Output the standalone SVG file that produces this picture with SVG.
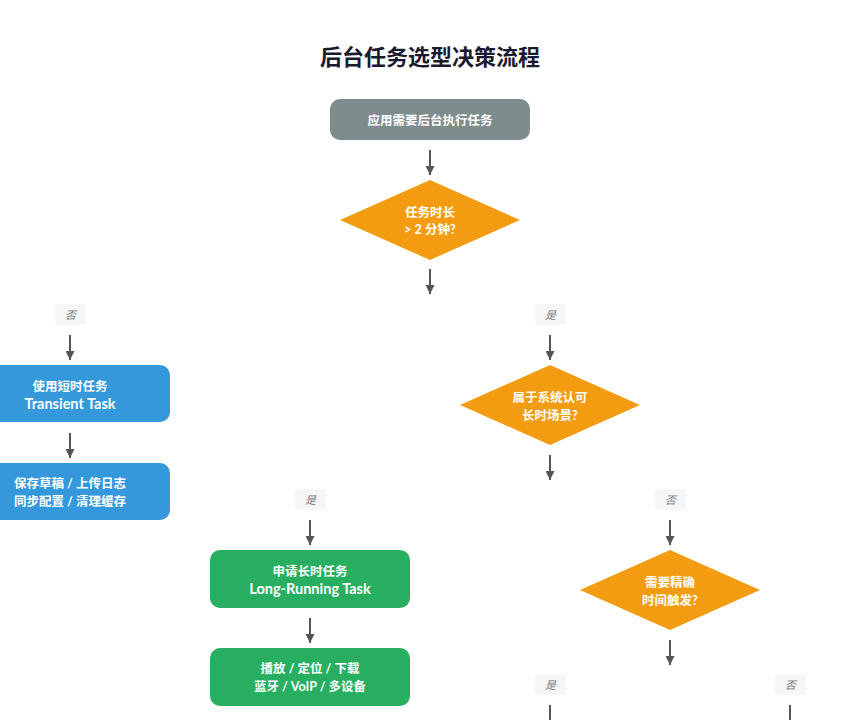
<svg xmlns="http://www.w3.org/2000/svg" width="860" height="720" viewBox="0 0 860 720">
<style>
.t{font-family:Lato,"Noto Sans CJK SC",sans-serif;font-weight:bold;fill:#fff;font-size:12.5px;text-anchor:middle;dominant-baseline:central}
.en{font-size:14.5px}
.title{font-family:Lato,"Noto Sans CJK SC",sans-serif;font-weight:bold;fill:#1a1a2e;font-size:22px;text-anchor:middle;dominant-baseline:central}
.lbg{fill:#f5f6f8}
.lt{font-family:Lato,"Noto Sans CJK SC",sans-serif;font-style:italic;fill:#777;font-size:11px;text-anchor:middle;dominant-baseline:central}
.e{stroke:#555;stroke-width:2;fill:none}
.blue{fill:#3498db}.green{fill:#27ae60}.dia{fill:#f39c12}.gray{fill:#7f8c8d}
</style>
<defs>
<marker id="ah" viewBox="0 0 10 10" refX="10" refY="5" markerWidth="4.5" markerHeight="4.5" orient="auto" markerUnits="strokeWidth">
<path d="M0,0 L10,5 L0,10 z" fill="#555"/>
</marker>
</defs>
<rect width="860" height="720" fill="#fff"/>
<text class="title" x="430" y="56">后台任务选型决策流程</text>

<g id="start"><rect class="gray" x="330" y="99" width="200" height="41" rx="10"/><text class="t" x="430" y="120">应用需要后台执行任务</text></g>
<g id="d1"><polygon class="dia" points="430,180 520,220 430,260 340,220"/><text class="t" x="430" y="212">任务时长</text><text class="t" x="430" y="229">&gt; 2 分钟?</text></g>
<g id="short"><rect class="blue" x="-30" y="365" width="200" height="57" rx="10"/><text class="t" x="70" y="386">使用短时任务</text><text class="t en" x="70" y="403">Transient Task</text></g>
<g id="shortEx"><rect class="blue" x="-30" y="463" width="200" height="57" rx="10"/><text class="t" x="70" y="483">保存草稿 / 上传日志</text><text class="t" x="70" y="501">同步配置 / 清理缓存</text></g>
<g id="d2"><polygon class="dia" points="550,365 640,405 550,445 460,405"/><text class="t" x="550" y="397">属于系统认可</text><text class="t" x="550" y="415">长时场景?</text></g>
<g id="long"><rect class="green" x="210" y="550" width="200" height="58" rx="10"/><text class="t" x="310" y="571">申请长时任务</text><text class="t en" x="310" y="588">Long-Running Task</text></g>
<g id="longEx"><rect class="green" x="210" y="648" width="200" height="58" rx="10"/><text class="t" x="310" y="668">播放 / 定位 / 下载</text><text class="t" x="310" y="686">蓝牙 / VoIP / 多设备</text></g>
<g id="d3"><polygon class="dia" points="670,550 760,590 670,630 580,590"/><text class="t" x="670" y="582">需要精确</text><text class="t" x="670" y="600">时间触发?</text></g>

<g id="labels">
<rect class="lbg" x="55" y="304" width="31" height="21" rx="4"/><text class="lt" x="70.5" y="314.5">否</text>
<rect class="lbg" x="535" y="304" width="31" height="21" rx="4"/><text class="lt" x="550.5" y="314.5">是</text>
<rect class="lbg" x="295" y="489" width="31" height="21" rx="4"/><text class="lt" x="310.5" y="499.5">是</text>
<rect class="lbg" x="655" y="489" width="31" height="21" rx="4"/><text class="lt" x="670.5" y="499.5">否</text>
<rect class="lbg" x="535" y="674" width="31" height="21" rx="4"/><text class="lt" x="550.5" y="684.5">是</text>
<rect class="lbg" x="775" y="674" width="31" height="21" rx="4"/><text class="lt" x="790.5" y="684.5">否</text>
</g>

<g id="connectors">
<line class="e" x1="430" y1="150" x2="430" y2="175" marker-end="url(#ah)"/>
<line class="e" x1="430" y1="269" x2="430" y2="294" marker-end="url(#ah)"/>
<line class="e" x1="70" y1="335" x2="70" y2="360" marker-end="url(#ah)"/>
<line class="e" x1="70" y1="433" x2="70" y2="458" marker-end="url(#ah)"/>
<line class="e" x1="550" y1="335" x2="550" y2="360" marker-end="url(#ah)"/>
<line class="e" x1="550" y1="455" x2="550" y2="480" marker-end="url(#ah)"/>
<line class="e" x1="310" y1="520" x2="310" y2="545" marker-end="url(#ah)"/>
<line class="e" x1="310" y1="618" x2="310" y2="643" marker-end="url(#ah)"/>
<line class="e" x1="670" y1="520" x2="670" y2="545" marker-end="url(#ah)"/>
<line class="e" x1="670" y1="640" x2="670" y2="665" marker-end="url(#ah)"/>
<line class="e" x1="550" y1="705" x2="550" y2="725"/>
<line class="e" x1="790" y1="705" x2="790" y2="725"/>
</g>
</svg>
